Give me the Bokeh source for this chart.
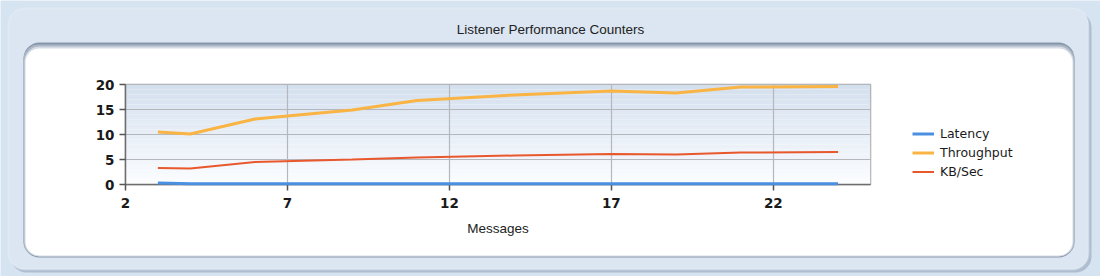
from bokeh.plotting import figure
from bokeh.models import (BoxAnnotation, Legend, LegendItem, Range1d,
                          FixedTicker)
from bokeh.core.properties import value
from bokeh.embed import file_html
from bokeh.resources import INLINE
import numpy as np

# ---- data ----
messages = [3, 4, 6, 9, 11, 14, 17, 19, 21, 24]
latency = [0.3, 0.15, 0.15, 0.15, 0.15, 0.15, 0.15, 0.15, 0.15, 0.15]
throughput = [10.5, 10.1, 13.1, 14.9, 16.8, 17.9, 18.7, 18.3, 19.5, 19.6]
kb_sec = [3.3, 3.2, 4.5, 5.0, 5.4, 5.8, 6.1, 6.0, 6.4, 6.5]
x_ticks = [2, 7, 12, 17, 22]
y_ticks = [0, 5, 10, 15, 20]
series_names = ["Latency", "Throughput", "KB/Sec"]
series_colors = ["#4a8fe0", "#f9b444", "#e8582c"]
series_widths = [3, 3, 2]
title_text = "Listener Performance Counters"
x_label = "Messages"

W, H = 1100, 276
FL, FR, FT, FB = 125, 870, 84, 184
ABS = {"position": "absolute", "left": "0px", "top": "0px"}

# ================= background figure (panels, title, legend) =================
bg = figure(width=W, height=H, output_backend="svg", toolbar_location=None,
            x_range=Range1d(0, W), y_range=Range1d(H, 0),
            x_axis_type=None, y_axis_type=None,
            min_border=0, min_border_left=0, min_border_right=0,
            min_border_top=0, min_border_bottom=0, styles=ABS)
bg.grid.visible = False
bg.outline_line_color = None
bg.background_fill_color = "#d6e3f1"
bg.border_fill_color = "#d6e3f1"


def box(l, r, t, b, color, radius=0, line=None, lw=1, alpha=1.0):
    bx = BoxAnnotation(left=l, right=r, top=t, bottom=b,
                       fill_color=color, fill_alpha=alpha,
                       line_color=line, line_width=lw,
                       border_radius=radius, level="underlay")
    bg.add_layout(bx)


box(10, 1091, 11, 272, "#aebdd0", 16)                   # outer shadow
box(8, 1088, 8, 269, "#dbe6f2", 16, "#eef4fa", 2)       # outer panel
box(23, 1074, 42, 257, "#8797aa", 16)                   # inner top shadow
box(23, 1074, 44, 256, "#aab6c5", 15)
box(24, 1073, 46, 256, "#d5dce6", 15)
box(25, 1072, 48, 255, "#ffffff", 14)                   # inner white panel

bg.text(x=[550], y=[29], text=[title_text], text_align="center",
        text_baseline="middle", text_font=value("Liberation Sans"),
        text_font_size="13.5px", text_color="#222222")

# legend swatches (same styles as the series; no visible data of their own)
nan2 = [float("nan"), float("nan")]
leg_r = [bg.line(x=nan2, y=nan2, line_color=c, line_width=w)
         for c, w in zip(series_colors, series_widths)]
legend = Legend(items=[LegendItem(label=n, renderers=[r])
                       for n, r in zip(series_names, leg_r)],
                location=(912, H - 181), padding=0, margin=0, spacing=0,
                glyph_width=22, glyph_height=19, label_height=19,
                label_standoff=6, border_line_color=None,
                background_fill_alpha=0,
                label_text_font="DejaVu Sans", label_text_font_size="12.5px",
                label_text_color="#1a1a1a")
bg.add_layout(legend, "center")

# ================= chart figure =================
p = figure(width=W, height=H, output_backend="svg", toolbar_location=None,
           x_range=Range1d(2, 25), y_range=Range1d(0, 20),
           min_border_left=FL, min_border_right=W - FR,
           min_border_top=FT, min_border_bottom=H - FB, styles=ABS)
p.border_fill_alpha = 0
p.background_fill_alpha = 0
p.outline_line_color = "#a9a9a9"
p.outline_line_width = 1.5

# gradient plot background
n = 40
edges = np.linspace(0, 20, n + 1)
top_c = np.array([211, 223, 238])
bot_c = np.array([252, 253, 255])
cols = []
for i in range(n):
    f = (i + 0.5) / n
    c = bot_c + (top_c - bot_c) * f
    cols.append("#%02x%02x%02x" % tuple(int(round(v)) for v in c))
p.quad(left=[2] * n, right=[25] * n, bottom=edges[:-1], top=edges[1:],
       fill_color=cols, line_color=None, level="image")

for ax in (p.xaxis[0], p.yaxis[0]):
    ax.axis_line_color = "#6e6e6e"
    ax.axis_line_width = 1.5
    ax.major_tick_line_color = "#555555"
    ax.major_tick_line_width = 1.5
    ax.major_tick_out = 6
    ax.major_tick_in = 0
    ax.minor_tick_line_color = None
    ax.major_label_text_font = "DejaVu Sans"
    ax.major_label_text_font_style = "bold"
    ax.major_label_text_font_size = "13.5px"
    ax.major_label_text_color = "#1a1a1a"
p.xaxis.ticker = FixedTicker(ticks=x_ticks)
p.yaxis.ticker = FixedTicker(ticks=y_ticks)
p.xaxis.major_label_standoff = 7
p.yaxis.major_label_standoff = 5
p.xaxis.axis_label = x_label
p.xaxis.axis_label_text_font = "Liberation Sans"
p.xaxis.axis_label_text_font_style = "normal"
p.xaxis.axis_label_text_font_size = "13.5px"
p.xaxis.axis_label_text_color = "#222222"
p.xaxis.axis_label_standoff = 10

p.xgrid.ticker = FixedTicker(ticks=x_ticks)
p.ygrid.ticker = FixedTicker(ticks=y_ticks)
for g in (p.xgrid[0], p.ygrid[0]):
    g.grid_line_color = "#b4b8bd"
    g.grid_line_width = 1.2

levels = ["overlay", "glyph", "glyph"]
for ys, c, w, lv in zip([latency, throughput, kb_sec], series_colors,
                        series_widths, levels):
    p.line(messages, ys, line_color=c, line_width=w, level=lv)

open("out.html", "w").write(file_html([bg, p], INLINE))
